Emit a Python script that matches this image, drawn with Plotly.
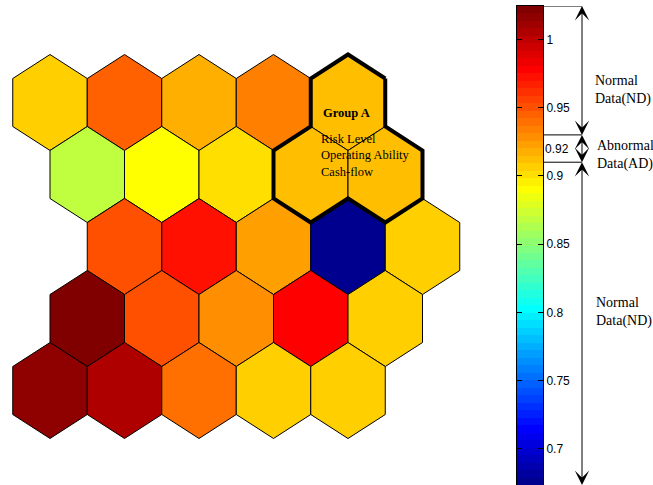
import numpy as np
import plotly.graph_objects as go

# ---------------------------------------------------------------- data
# SOM node values, one list per map row (top to bottom)
row_offsets = [0.0, 0.5, 1.0, 0.5, 0.0]
row0_values = [0.907, 0.945, 0.917, 0.934, 0.912]
row1_values = [0.868, 0.890, 0.901, 0.912, 0.912]
row2_values = [0.950, 0.972, 0.923, 0.676, 0.907]
row3_values = [1.022, 0.950, 0.928, 0.978, 0.907]
row4_values = [1.016, 1.005, 0.939, 0.907, 0.907]
node_rows = [row0_values, row1_values, row2_values, row3_values, row4_values]

group_a_nodes = [(0, 4), (1, 3), (1, 4)]
group_a_title = "Group A"
group_a_items = ["Risk Level", "Operating Ability", "Cash-flow"]

c_min, c_max = 0.6736, 1.0244
cbar_tickvals = [0.7, 0.75, 0.8, 0.85, 0.9, 0.95, 1.0]
cbar_ticktext = ["0.7", "0.75", "0.8", "0.85", "0.9", "0.95", "1"]
ad_low, ad_high = 0.91, 0.93
ad_label_value = 0.92
nd_label = "Normal<br>Data(ND)"
ad_label = "Abnormal<br>Data(AD)"

# ---------------------------------------------------------------- colormap
def jet(n=64):
    """Classic MATLAB jet colormap with n entries."""
    m = int(np.ceil(n / 4))
    u = np.concatenate([np.arange(1, m + 1) / m, np.ones(m - 1), np.arange(m, 0, -1) / m])
    g = int(np.ceil(m / 2)) - int(n % 4 == 1) + np.arange(1, len(u) + 1)
    r = g + m
    b = g - m
    J = np.zeros((n, 3))
    J[r[r <= n] - 1, 0] = u[r <= n]
    J[g[g <= n] - 1, 1] = u[g <= n]
    J[b[b >= 1] - 1, 2] = u[b >= 1]
    return ["rgb(%d,%d,%d)" % tuple(int(round(255 * c)) for c in row) for row in J]

N_COLORS = 64
jet_colors = jet(N_COLORS)
jet_scale = [[k / (N_COLORS - 1), c] for k, c in enumerate(jet_colors)]


def color_index(v):
    k = int(np.floor((v - c_min) / (c_max - c_min) * N_COLORS))
    return min(max(k, 0), N_COLORS - 1)


# ---------------------------------------------------------------- geometry
W, H = 653, 485
HEX_R = 0.5 / np.cos(np.pi / 6)          # circumradius for unit width
ROW_STEP = 1.5 * HEX_R
px_per_x = 74.5
px_per_y = 72.0 / ROW_STEP
x0_px, y0_px = 50.0, 102.5               # pixel centre of the top-left node


def hex_vertices(cx, cy):
    ang = np.deg2rad([90, 30, -30, -90, -150, 150])
    return [(round(cx + HEX_R * np.cos(a), 6), round(cy + HEX_R * np.sin(a), 6)) for a in ang]


def node_center(r, c):
    return c + row_offsets[r], -r * ROW_STEP


fig = go.Figure()

for r, vals in enumerate(node_rows):
    for c, v in enumerate(vals):
        cx, cy = node_center(r, c)
        verts = hex_vertices(cx, cy)
        xs = [p[0] for p in verts] + [verts[0][0]]
        ys = [p[1] for p in verts] + [verts[0][1]]
        fig.add_trace(go.Scatter(
            x=xs, y=ys, mode="lines", fill="toself",
            fillcolor=jet_colors[color_index(v)],
            line=dict(color="black", width=1),
            hoverinfo="skip", showlegend=False,
        ))

# outer boundary of Group A (edges not shared between its nodes)
edge_count = {}
for r, c in group_a_nodes:
    v = hex_vertices(*node_center(r, c))
    for i in range(6):
        e = frozenset([v[i], v[(i + 1) % 6]])
        edge_count[e] = edge_count.get(e, 0) + 1
outer = [tuple(e) for e, n in edge_count.items() if n == 1]
path = list(outer.pop(0))
while outer:
    for i, (a, b) in enumerate(outer):
        if a == path[-1]:
            path.append(b); outer.pop(i); break
        if b == path[-1]:
            path.append(a); outer.pop(i); break
fig.add_trace(go.Scatter(
    x=[p[0] for p in path], y=[p[1] for p in path], mode="lines",
    line=dict(color="black", width=4), hoverinfo="skip", showlegend=False,
))

# colour bar drawn as a one-column heatmap on its own axes
step = (c_max - c_min) / N_COLORS
fig.add_trace(go.Heatmap(
    z=[[k] for k in range(N_COLORS)],
    y=[c_min + (k + 0.5) * step for k in range(N_COLORS)],
    x0=0.5, dx=1,
    colorscale=jet_scale, zmin=0, zmax=N_COLORS - 1,
    showscale=False, hoverinfo="skip",
    xaxis="x2", yaxis="y2",
))

serif = "Liberation Serif, Times New Roman, serif"
sans = "Liberation Sans, Arial, sans-serif"

annotations = []
# Group A labels
gx = (318.5 - x0_px) / px_per_x
annotations.append(dict(
    x=(320.5 - x0_px) / px_per_x, y=-(113 - y0_px) / px_per_y, xref="x", yref="y",
    text="<b>%s</b>" % group_a_title, showarrow=False, xanchor="left", yanchor="middle",
    font=dict(family=serif, size=12.5, color="black"),
))
annotations.append(dict(
    x=gx, y=-(155 - y0_px) / px_per_y, xref="x", yref="y",
    text="<br>".join(group_a_items), showarrow=False, xanchor="left", yanchor="middle",
    align="left", font=dict(family=serif, size=12.5, color="black"),
))

# double-headed range arrows beside the colour bar
# (tiny label box so the shaft runs right up to both limits)
arrow_x = 582 / W
for lo, hi in [(ad_high, c_max), (ad_low, ad_high), (c_min, ad_low)]:
    annotations.append(dict(
        x=arrow_x, y=lo, xref="paper", yref="y2",
        ax=0, ay=hi, axref="pixel", ayref="y2",
        text="", font=dict(size=1), borderpad=0, borderwidth=0,
        showarrow=True, arrowside="end+start",
        arrowhead=3, startarrowhead=3, arrowsize=2.4, startarrowsize=2.4,
        arrowwidth=1, arrowcolor="black", standoff=0, startstandoff=0,
    ))

label_x = 593 / W
annotations.append(dict(x=label_x, y=0.963, xref="paper", yref="y2",
                        text=nd_label, showarrow=False, xanchor="left", align="left",
                        font=dict(family=serif, size=14, color="black")))
annotations.append(dict(x=label_x + 2 / W, y=0.9155, xref="paper", yref="y2",
                        text=ad_label, showarrow=False, xanchor="left", align="left",
                        font=dict(family=serif, size=14, color="black")))
annotations.append(dict(x=label_x + 1 / W, y=0.800, xref="paper", yref="y2",
                        text=nd_label, showarrow=False, xanchor="left", align="left",
                        font=dict(family=serif, size=14, color="black")))
annotations.append(dict(x=543 / W, y=ad_label_value, xref="paper", yref="y2",
                        text=str(ad_label_value), showarrow=False, xanchor="left",
                        font=dict(family=sans, size=12, color="black")))

shapes = []
for yv in [c_max, ad_high, ad_low]:
    shapes.append(dict(type="line", xref="paper", yref="y2",
                       x0=543 / W, x1=arrow_x, y0=yv, y1=yv,
                       line=dict(color="black", width=1)))

cb_left, cb_right, cb_top = 517, 543, 6

fig.update_layout(
    width=W, height=H,
    margin=dict(l=0, r=0, t=0, b=0),
    paper_bgcolor="white", plot_bgcolor="rgba(0,0,0,0)",
    showlegend=False,
    xaxis=dict(domain=[0, 1], range=[-x0_px / px_per_x, (W - x0_px) / px_per_x],
               visible=False, fixedrange=True),
    yaxis=dict(domain=[0, 1], range=[-(H - y0_px) / px_per_y, y0_px / px_per_y],
               visible=False, fixedrange=True),
    xaxis2=dict(domain=[cb_left / W, cb_right / W], range=[0, 1], anchor="y2",
                side="top", showline=True, linecolor="black", linewidth=1,
                showticklabels=False, ticks="", showgrid=False, zeroline=False),
    yaxis2=dict(domain=[0, 1 - cb_top / H], range=[c_min, c_max], anchor="x2",
                side="right", showline=True, linecolor="black", linewidth=1,
                mirror="ticks", ticks="inside", ticklen=5, tickcolor="black",
                tickvals=cbar_tickvals, ticktext=cbar_ticktext,
                tickfont=dict(family=sans, size=12, color="black"),
                showgrid=False, zeroline=False),
    annotations=annotations,
    shapes=shapes,
)

fig.write_html("out.html")
